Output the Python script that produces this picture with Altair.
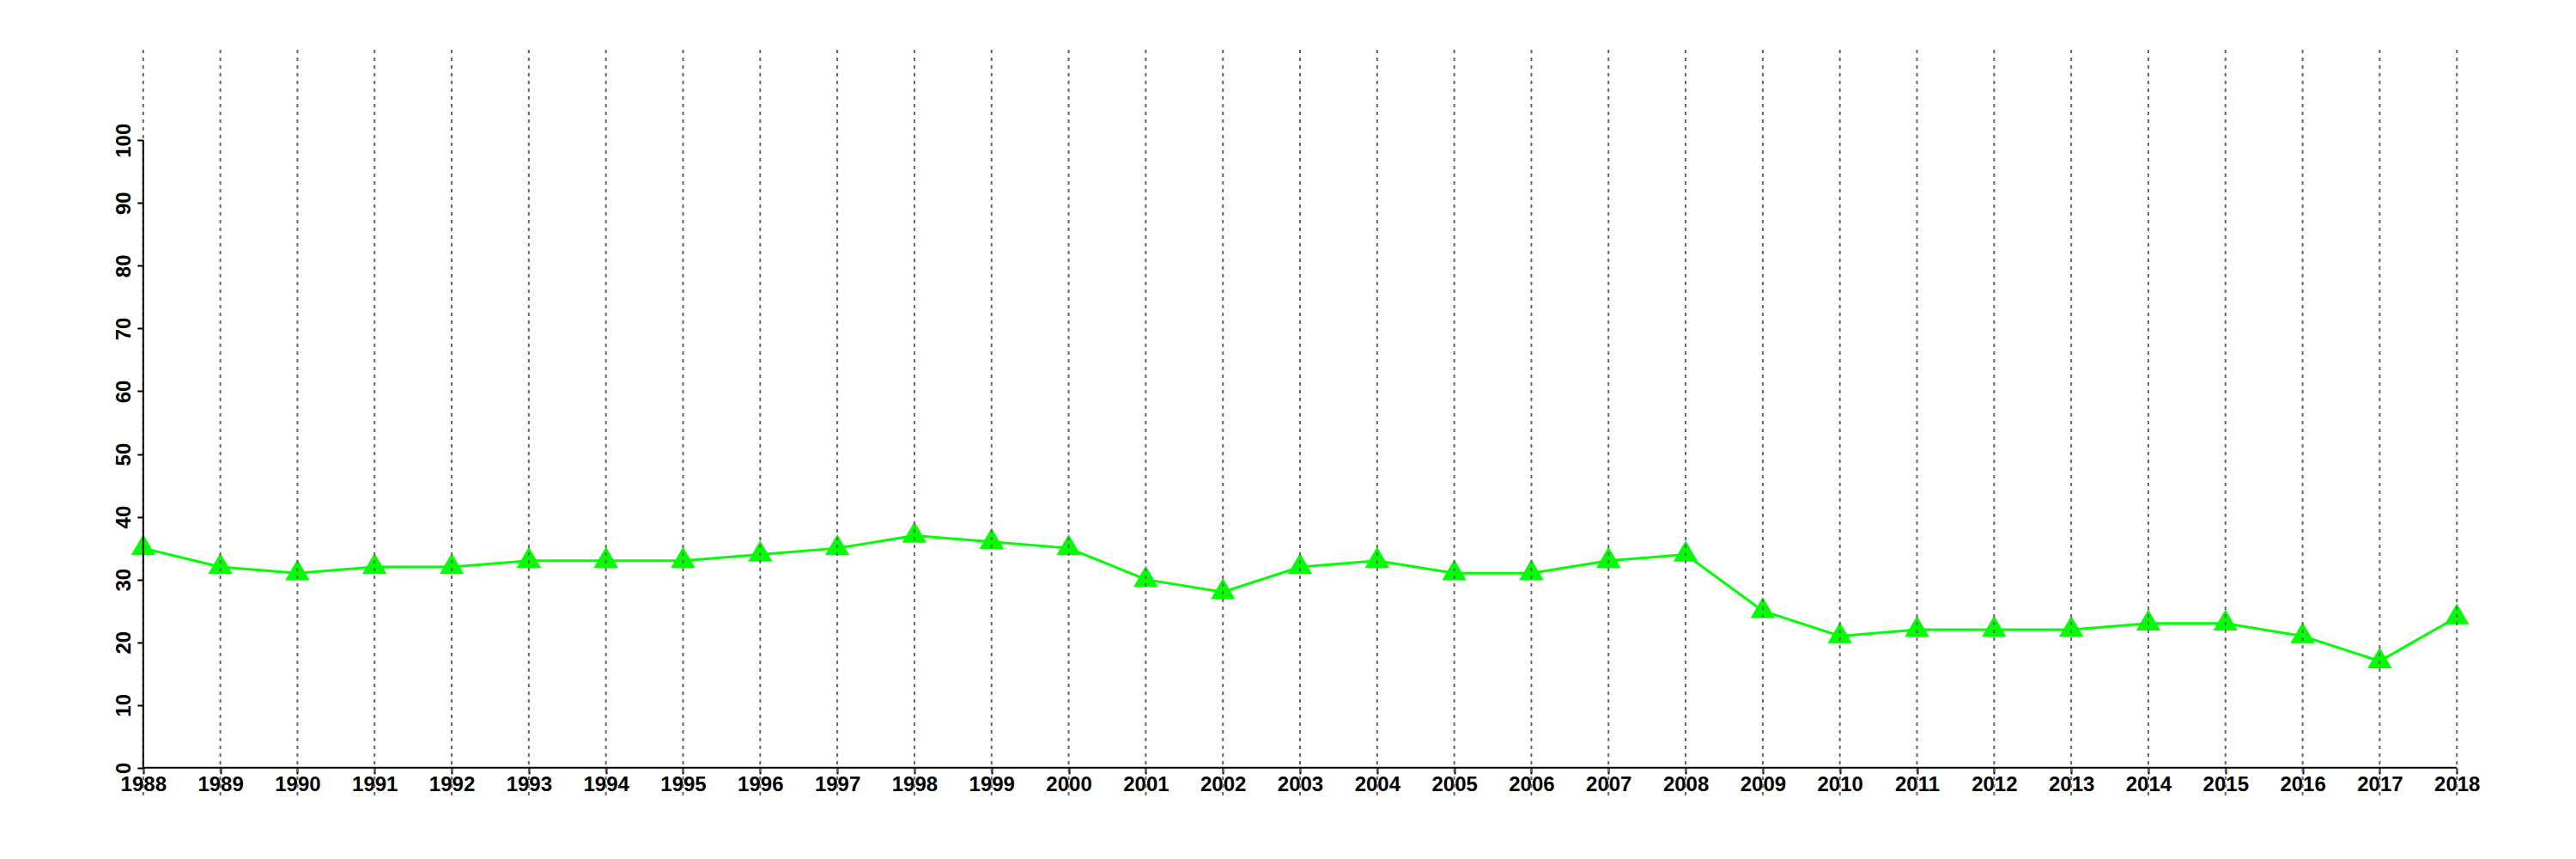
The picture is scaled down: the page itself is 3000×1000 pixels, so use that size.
import altair as alt
import pandas as pd

years = list(range(1988, 2019))
values = [35, 32, 31, 32, 32, 33, 33, 33, 34, 35, 37, 36, 35, 30, 28, 32, 33, 31, 31, 33,
          34, 25, 21, 22, 22, 22, 23, 23, 21, 17, 24]
y_ticks = list(range(0, 101, 10))

df = pd.DataFrame({"year": years, "value": values})

x_min, x_max = min(years), max(years)
ext_x = (x_max - x_min) * 0.04
y_lo, y_hi = 0, 110
ext_y = (y_hi - y_lo) * 0.04

W, H = 2910, 868

xscale = alt.Scale(domain=[x_min - ext_x, x_max + ext_x], nice=False, zero=False)
yscale = alt.Scale(domain=[y_lo - ext_y, y_hi + ext_y], nice=False, zero=False)

x_off = -(ext_x / (x_max - x_min + 2 * ext_x)) * W
y_off = -(ext_y / (y_hi - y_lo + 2 * ext_y)) * H

font = "Liberation Sans"

xaxis = alt.Axis(values=years, format="d", domain=False, grid=False, offset=y_off,
                 tickSize=7, tickWidth=2, tickColor="black",
                 labelFont=font, labelFontSize=24, labelFontWeight="bold", labelColor="black",
                 labelPadding=1, labelAngle=0, labelAlign="center", labelBaseline="top",
                 labelOverlap=False, title=None, zindex=0)
yaxis = alt.Axis(values=y_ticks, format="d", domain=False, grid=False, offset=x_off,
                 tickSize=7, tickWidth=2, tickColor="black",
                 labelFont=font, labelFontSize=24, labelFontWeight="bold", labelColor="black",
                 labelPadding=3, labelAngle=270, labelAlign="center", labelBaseline="bottom",
                 labelOverlap=False, title=None, zindex=0)

base = alt.Chart(df)

line = base.mark_line(color="#00FF00", strokeWidth=3).encode(
    x=alt.X("year:Q", scale=xscale, axis=xaxis),
    y=alt.Y("value:Q", scale=yscale, axis=yaxis),
)

points = base.mark_point(shape="triangle-up", filled=True, size=800, color="#00FF00",
                         opacity=1, yOffset=-4).encode(
    x=alt.X("year:Q", scale=xscale),
    y=alt.Y("value:Q", scale=yscale),
)

grid = base.mark_rule(color="#666666", strokeWidth=2, strokeDash=[4, 5]).encode(
    x=alt.X("year:Q", scale=xscale),
)

xdomain = alt.Chart(pd.DataFrame({"a": [x_min], "b": [x_max], "y": [0]})).mark_rule(
    color="black", strokeWidth=2).encode(
    x=alt.X("a:Q", scale=xscale), x2="b:Q", y=alt.Y("y:Q", scale=yscale))

ydomain = alt.Chart(pd.DataFrame({"x": [x_min], "a": [0], "b": [max(y_ticks)]})).mark_rule(
    color="black", strokeWidth=2).encode(
    x=alt.X("x:Q", scale=xscale), y=alt.Y("a:Q", scale=yscale), y2="b:Q")

chart = alt.layer(line, points, grid, xdomain, ydomain).properties(
    width=W, height=H,
    padding={"left": 51, "top": 50, "right": 15, "bottom": 14},
    autosize=alt.AutoSizeParams(type="none"),
    background="white",
).configure_view(stroke=None)

chart.save("out.html", embed_options={"renderer": "svg", "actions": False})
